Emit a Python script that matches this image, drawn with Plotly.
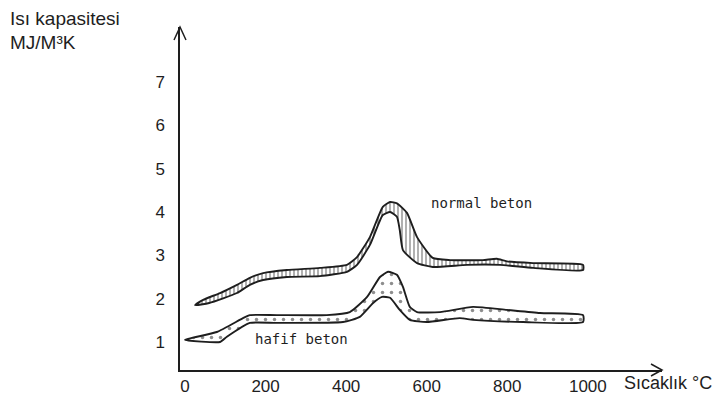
import plotly.graph_objects as go

# ---- data (temperature °C, heat capacity MJ/m3K) ----
normal_upper_T = [25, 45, 87, 129, 161, 194, 253, 335, 402, 427, 459, 491, 509, 526, 551, 576, 615, 658, 739, 774, 799, 864, 988]
normal_upper_v = [1.85, 1.97, 2.13, 2.32, 2.48, 2.59, 2.66, 2.71, 2.78, 2.96, 3.42, 4.12, 4.23, 4.20, 3.98, 3.42, 2.94, 2.89, 2.89, 2.92, 2.86, 2.82, 2.78]
normal_lower_T = [25, 60, 129, 161, 194, 253, 335, 402, 427, 459, 491, 509, 526, 533, 541, 576, 615, 700, 782, 864, 988]
normal_lower_v = [1.85, 1.90, 2.13, 2.32, 2.43, 2.50, 2.52, 2.62, 2.78, 3.24, 3.93, 4.00, 3.89, 3.59, 3.12, 2.82, 2.73, 2.78, 2.78, 2.71, 2.66]

hafif_upper_T = [0, 79, 144, 161, 228, 352, 409, 452, 484, 504, 526, 541, 558, 576, 633, 715, 799, 881, 988]
hafif_upper_v = [1.05, 1.23, 1.55, 1.62, 1.62, 1.62, 1.69, 2.04, 2.50, 2.62, 2.55, 2.27, 1.81, 1.69, 1.69, 1.81, 1.74, 1.67, 1.62]
hafif_lower_T = [0, 87, 104, 161, 228, 392, 434, 467, 489, 509, 533, 558, 600, 682, 715, 839, 988]
hafif_lower_v = [1.05, 1.00, 1.12, 1.44, 1.44, 1.46, 1.58, 1.90, 2.04, 2.02, 1.74, 1.51, 1.46, 1.55, 1.51, 1.46, 1.46]

x_ticks = [0, 200, 400, 600, 800, 1000]
y_ticks = [1, 2, 3, 4, 5, 6, 7]

band_labels = ["normal beton", "hafif beton"]
label_pos_T = [737, 288]
label_pos_v = [4.2, 1.07]

INK = "#1e1e1e"
FONT = "Liberation Sans, Arial, sans-serif"
MONO = "DejaVu Sans Mono, monospace"

fig = go.Figure()

def band(uT, uv, lT, lv, shape, size, solidity):
    xs = list(uT) + list(lT[::-1])
    ys = list(uv) + list(lv[::-1])
    return go.Scatter(
        x=xs, y=ys, mode="lines", fill="toself",
        line=dict(color=INK, width=1.9, shape="spline", smoothing=0.5),
        fillcolor="white",
        fillpattern=dict(shape=shape, fgcolor=INK, bgcolor="white", size=size, solidity=solidity),
        hoverinfo="skip", showlegend=False,
    )

fig.add_trace(band(normal_upper_T, normal_upper_v, normal_lower_T, normal_lower_v, "|", 4, 0.35))
fig.add_trace(band(hafif_upper_T, hafif_upper_v, hafif_lower_T, hafif_lower_v, ".", 9, 0.12))

for t, T, v in zip(band_labels, label_pos_T, label_pos_v):
    fig.add_annotation(x=T, y=v, text=t, showarrow=False,
                       font=dict(family=MONO, size=14, color=INK))

# plot area in pixels: 482 wide, 343 tall
PW, PH = 482, 343
fig.update_layout(
    width=717, height=395,
    margin=dict(l=180, r=55, t=27, b=25, autoexpand=False),
    paper_bgcolor="white", plot_bgcolor="white",
    xaxis=dict(range=[-12.4, 1184], tickvals=x_ticks, showgrid=False, zeroline=False,
               showline=True, linecolor=INK, linewidth=1.5, ticks="", automargin=False,
               tickfont=dict(family=FONT, size=17, color=INK)),
    yaxis=dict(range=[0.353, 8.27], tickvals=y_ticks, showgrid=False, zeroline=False,
               showline=True, linecolor=INK, linewidth=1.5, ticks="", ticklabelstandoff=10,
               automargin=False,
               tickfont=dict(family=FONT, size=17, color=INK)),
    showlegend=False,
)

# arrow heads on axes
ax_len, ax_half = 11 / PW, 6 / PH
fig.add_shape(type="path", xref="paper", yref="paper",
              path=f"M {1-ax_len} {ax_half} L 1 0 L {1-ax_len} {-ax_half}",
              line=dict(color=INK, width=1.5))
ay_len, ay_half = 13 / PH, 6 / PW
fig.add_shape(type="path", xref="paper", yref="paper",
              path=f"M {-ay_half} {1-ay_len} L 0 1 L {ay_half} {1-ay_len}",
              line=dict(color=INK, width=1.5))

# titles
fig.add_annotation(xref="paper", yref="paper", x=(8 - 180) / PW, y=(370 - 18) / PH,
                   xanchor="left", yanchor="middle", text="Isı kapasitesi", showarrow=False,
                   font=dict(family=FONT, size=19, color=INK))
fig.add_annotation(xref="paper", yref="paper", x=(8 - 180) / PW, y=(370 - 42) / PH,
                   xanchor="left", yanchor="middle", text="MJ/M³K", showarrow=False,
                   font=dict(family=FONT, size=19, color=INK))
fig.add_annotation(xref="paper", yref="paper", x=(622 - 180) / PW, y=(370 - 383) / PH,
                   xanchor="left", yanchor="middle", text="Sıcaklık °C", showarrow=False,
                   font=dict(family=FONT, size=18, color=INK))

fig.write_html("out.html")
